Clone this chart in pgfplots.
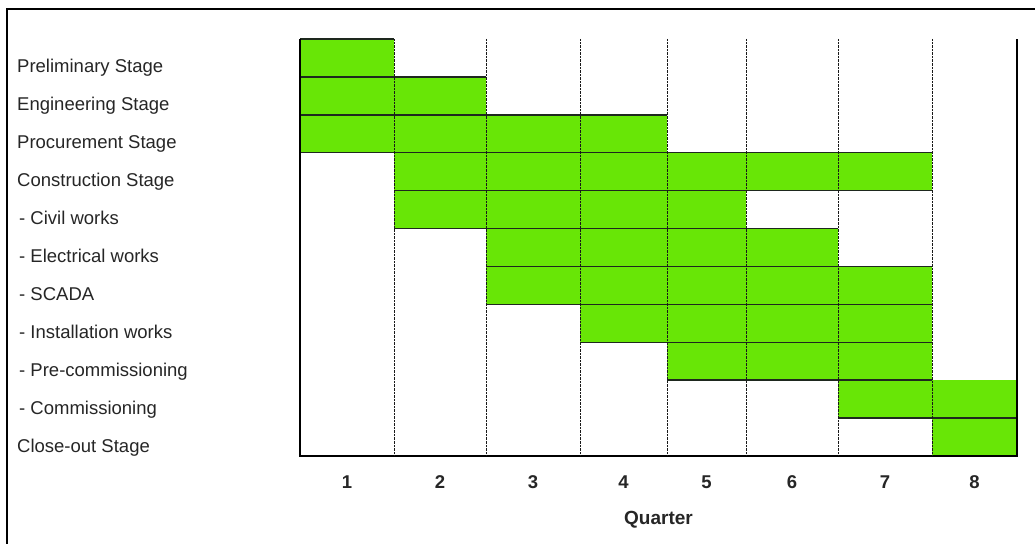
\documentclass[border=0pt]{standalone}
\usepackage{pgfplots}
\pgfplotsset{compat=1.18}
\usepackage{fontspec}
\setmainfont{Liberation Sans}
\definecolor{barg}{RGB}{104,230,6}
\definecolor{edge}{RGB}{30,40,30}
\begin{document}
\begin{tikzpicture}[x=1bp,y=1bp]
\path[use as bounding box] (0,0) rectangle (1035,544);
\fill[white] (0,0) rectangle (1035,544);
\draw[line width=1.8bp] (7,0) -- (7,535) -- (1035,535);
\begin{axis}[
  at={(300bp,88bp)}, anchor=south west,
  scale only axis, width=717bp, height=417bp,
  xmin=0, xmax=717, ymin=0, ymax=11, y dir=reverse,
  axis line style={draw=none},
  xtick={47,140,233,323.5,406.5,492,585,674.5},
  xticklabels={1,2,3,4,5,6,7,8},
  minor xtick={94,186,280,367,446,538,632},
  xminorgrids,
  minor grid style={densely dotted, black!90, line width=1bp},
  major tick length=0pt, minor tick length=0pt,
  ytick={0.5,1.5,2.5,3.5,4.5,5.5,6.5,7.5,8.5,9.5,10.5},
  yticklabels={Preliminary Stage,Engineering Stage,Procurement Stage,Construction Stage,
    {\hspace*{2bp}- Civil works},{\hspace*{2bp}- Electrical works},{\hspace*{2bp}- SCADA},
    {\hspace*{2bp}- Installation works},{\hspace*{2bp}- Pre-commissioning},
    {\hspace*{2bp}- Commissioning},Close-out Stage},
  yticklabel style={font=\fontsize{18.5bp}{21bp}\selectfont, text=black!85, anchor=base west, inner sep=0pt, xshift=-283bp, yshift=-15bp},
  xticklabel style={font=\fontsize{18.5bp}{21bp}\selectfont\bfseries, text=black!85, anchor=center, inner sep=0pt, yshift=-26bp},
  xlabel={Quarter},
  xlabel style={font=\fontsize{19bp}{21bp}\selectfont\bfseries, text=black!85, at={(axis description cs:0.5,0)}, anchor=center, yshift=-64bp},
  axis on top,
  clip=false,
]
% bars: rows 0..10 (top..bottom), x in quarter edges
\addplot[fill=barg, draw=none] coordinates {(0,0) (94,0) (94,1) (0,1)};
\addplot[fill=barg, draw=none] coordinates {(0,1) (186,1) (186,2) (0,2)};
\addplot[fill=barg, draw=none] coordinates {(0,2) (367,2) (367,3) (0,3)};
\addplot[fill=barg, draw=none] coordinates {(94,3) (632,3) (632,4) (94,4)};
\addplot[fill=barg, draw=none] coordinates {(94,4) (446,4) (446,5) (94,5)};
\addplot[fill=barg, draw=none] coordinates {(186,5) (538,5) (538,6) (186,6)};
\addplot[fill=barg, draw=none] coordinates {(186,6) (632,6) (632,7) (186,7)};
\addplot[fill=barg, draw=none] coordinates {(280,7) (632,7) (632,8) (280,8)};
\addplot[fill=barg, draw=none] coordinates {(367,8) (632,8) (632,9) (367,9)};
\addplot[fill=barg, draw=none] coordinates {(538,9) (717,9) (717,10) (538,10)};
\addplot[fill=barg, draw=none] coordinates {(632,10) (717,10) (717,11) (632,11)};
% bar top/bottom edges
\addplot[edge, line width=1.4bp] coordinates {(0,0) (94,0)};
\addplot[edge, line width=1.4bp] coordinates {(0,1) (186,1)};
\addplot[edge, line width=1.4bp] coordinates {(0,2) (367,2)};
\addplot[edge, line width=1.4bp] coordinates {(0,3) (632,3)};
\addplot[edge, line width=1.4bp] coordinates {(94,4) (632,4)};
\addplot[edge, line width=1.4bp] coordinates {(94,5) (538,5)};
\addplot[edge, line width=1.4bp] coordinates {(186,6) (632,6)};
\addplot[edge, line width=1.4bp] coordinates {(186,7) (632,7)};
\addplot[edge, line width=1.4bp] coordinates {(280,8) (632,8)};
\addplot[edge, line width=1.4bp] coordinates {(367,9) (632,9)};
\addplot[edge, line width=1.4bp] coordinates {(538,10) (717,10)};
% axis frame: left, bottom, right
\draw[black, line width=1.8bp] (axis cs:0,0) -- (axis cs:0,11) -- (axis cs:717,11) -- (axis cs:717,0);
\end{axis}
\end{tikzpicture}
\end{document}
